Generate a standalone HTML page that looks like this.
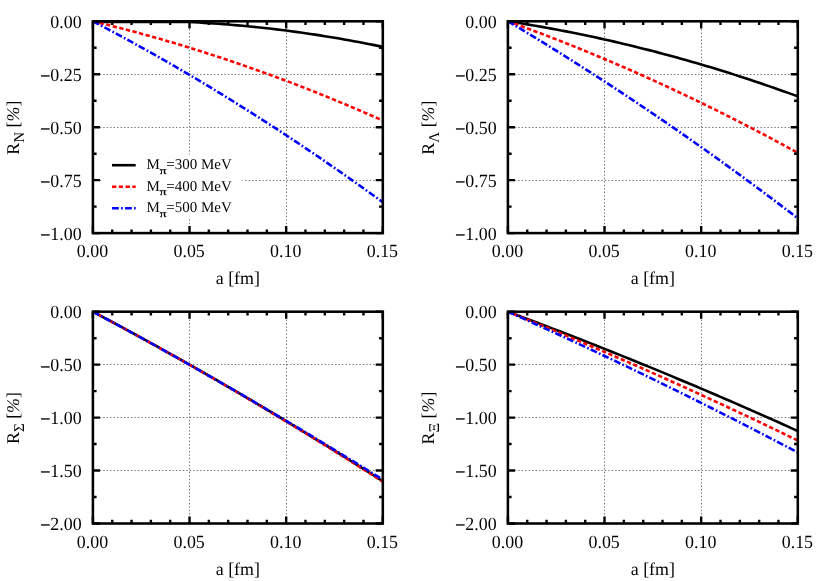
<!DOCTYPE html>
<html><head><meta charset="utf-8"><title>chart</title>
<style>
html,body{margin:0;padding:0;background:#fff;}
body{width:830px;height:581px;overflow:hidden;position:relative;font-family:"Liberation Serif",serif;}
</style></head><body>
<svg width="830" height="581" viewBox="0 0 830 581" style="position:absolute;left:0;top:0">
<rect x="0" y="0" width="830" height="581" fill="#fff"/>
<clipPath id="c00"><rect x="92.90" y="21.30" width="289.90" height="211.80"/></clipPath>
<path d="M92.90 74.50H382.80M92.90 127.50H382.80M92.90 180.50H382.80" stroke="#000" stroke-opacity="0.55" stroke-width="1.0" stroke-dasharray="1.4 2.06" fill="none"/>
<path d="M189.50 21.30V233.10M286.50 21.30V233.10" stroke="#000" stroke-opacity="0.55" stroke-width="1.0" stroke-dasharray="1.4 2.06" stroke-dashoffset="2.59" fill="none"/>
<g clip-path="url(#c00)" fill="none" stroke-width="2.6">
<polyline points="92.90,21.94 97.73,21.94 102.56,21.94 107.40,21.94 112.23,21.94 117.06,21.94 121.89,21.94 126.72,21.94 131.55,21.94 136.38,21.94 141.22,21.94 146.05,21.94 150.88,21.94 155.71,21.94 160.54,21.94 165.38,21.94 170.21,21.94 175.04,21.94 179.87,21.94 184.70,21.94 189.53,22.06 194.37,22.30 199.20,22.56 204.03,22.84 208.86,23.14 213.69,23.46 218.52,23.80 223.36,24.16 228.19,24.53 233.02,24.93 237.85,25.35 242.68,25.78 247.51,26.24 252.34,26.71 257.18,27.21 262.01,27.72 266.84,28.25 271.67,28.80 276.50,29.38 281.34,29.97 286.17,30.58 291.00,31.21 295.83,31.86 300.66,32.52 305.49,33.21 310.32,33.92 315.16,34.65 319.99,35.39 324.82,36.16 329.65,36.94 334.48,37.75 339.32,38.57 344.15,39.41 348.98,40.28 353.81,41.16 358.64,42.06 363.47,42.98 368.31,43.92 373.14,44.88 377.97,45.86 382.80,46.86" stroke="#000000"/>
<polyline points="92.90,21.30 97.73,22.46 102.56,23.64 107.40,24.84 112.23,26.05 117.06,27.28 121.89,28.53 126.72,29.79 131.55,31.07 136.38,32.36 141.22,33.68 146.05,35.01 150.88,36.35 155.71,37.72 160.54,39.09 165.38,40.49 170.21,41.90 175.04,43.33 179.87,44.78 184.70,46.24 189.53,47.72 194.37,49.22 199.20,50.73 204.03,52.26 208.86,53.81 213.69,55.37 218.52,56.95 223.36,58.55 228.19,60.16 233.02,61.79 237.85,63.43 242.68,65.10 247.51,66.78 252.34,68.47 257.18,70.19 262.01,71.92 266.84,73.66 271.67,75.43 276.50,77.21 281.34,79.00 286.17,80.82 291.00,82.65 295.83,84.49 300.66,86.36 305.49,88.24 310.32,90.13 315.16,92.04 319.99,93.97 324.82,95.92 329.65,97.88 334.48,99.86 339.32,101.86 344.15,103.87 348.98,105.90 353.81,107.95 358.64,110.01 363.47,112.09 368.31,114.19 373.14,116.30 377.97,118.43 382.80,120.58" stroke="#ff0000" stroke-dasharray="4.3 2.5"/>
<polyline points="92.90,21.30 97.73,23.82 102.56,26.36 107.40,28.92 112.23,31.49 117.06,34.08 121.89,36.69 126.72,39.31 131.55,41.95 136.38,44.61 141.22,47.29 146.05,49.98 150.88,52.68 155.71,55.41 160.54,58.15 165.38,60.90 170.21,63.68 175.04,66.47 179.87,69.27 184.70,72.10 189.53,74.94 194.37,77.80 199.20,80.67 204.03,83.56 208.86,86.47 213.69,89.39 218.52,92.33 223.36,95.29 228.19,98.26 233.02,101.25 237.85,104.26 242.68,107.28 247.51,110.32 252.34,113.38 257.18,116.45 262.01,119.55 266.84,122.65 271.67,125.78 276.50,128.92 281.34,132.07 286.17,135.25 291.00,138.44 295.83,141.65 300.66,144.87 305.49,148.11 310.32,151.37 315.16,154.64 319.99,157.93 324.82,161.24 329.65,164.56 334.48,167.91 339.32,171.26 344.15,174.64 348.98,178.03 353.81,181.44 358.64,184.86 363.47,188.30 368.31,191.76 373.14,195.23 377.97,198.72 382.80,202.23" stroke="#0000ff" stroke-dasharray="6.8 2.3 1.7 2.2"/>
</g>
<rect x="101" y="154.5" width="141.5" height="64" fill="#fff"/>
<path d="M112 165.2H135.7" stroke="#000000" stroke-width="2.6" fill="none"/>
<path d="M112 186.7H135.7" stroke="#ff0000" stroke-width="2.6" stroke-dasharray="4.3 2.5" fill="none"/>
<path d="M112 208.2H135.7" stroke="#0000ff" stroke-width="2.6" stroke-dasharray="6.8 2.3 1.7 2.2" fill="none"/>
<path d="M92.90 233.10v-7.1M92.90 21.30v7.1M112.23 233.10v-3.7M112.23 21.30v3.7M131.55 233.10v-3.7M131.55 21.30v3.7M150.88 233.10v-3.7M150.88 21.30v3.7M170.21 233.10v-3.7M170.21 21.30v3.7M189.53 233.10v-7.1M189.53 21.30v7.1M208.86 233.10v-3.7M208.86 21.30v3.7M228.19 233.10v-3.7M228.19 21.30v3.7M247.51 233.10v-3.7M247.51 21.30v3.7M266.84 233.10v-3.7M266.84 21.30v3.7M286.17 233.10v-7.1M286.17 21.30v7.1M305.49 233.10v-3.7M305.49 21.30v3.7M324.82 233.10v-3.7M324.82 21.30v3.7M344.15 233.10v-3.7M344.15 21.30v3.7M363.47 233.10v-3.7M363.47 21.30v3.7M382.80 233.10v-7.1M382.80 21.30v7.1" stroke="#000" stroke-width="2.4" fill="none"/>
<path d="M92.90 21.30h7.1M382.80 21.30h-7.1M92.90 47.78h3.7M382.80 47.78h-3.7M92.90 74.25h7.1M382.80 74.25h-7.1M92.90 100.73h3.7M382.80 100.73h-3.7M92.90 127.20h7.1M382.80 127.20h-7.1M92.90 153.68h3.7M382.80 153.68h-3.7M92.90 180.15h7.1M382.80 180.15h-7.1M92.90 206.63h3.7M382.80 206.63h-3.7M92.90 233.10h7.1M382.80 233.10h-7.1" stroke="#000" stroke-width="2.4" fill="none"/>
<rect x="92.90" y="21.30" width="289.90" height="211.80" fill="none" stroke="#000" stroke-width="2.55"/>
<clipPath id="c10"><rect x="507.90" y="21.30" width="289.90" height="211.80"/></clipPath>
<path d="M507.90 74.50H797.80M507.90 127.50H797.80M507.90 180.50H797.80" stroke="#000" stroke-opacity="0.55" stroke-width="1.0" stroke-dasharray="1.4 2.06" fill="none"/>
<path d="M604.50 21.30V233.10M701.50 21.30V233.10" stroke="#000" stroke-opacity="0.55" stroke-width="1.0" stroke-dasharray="1.4 2.06" stroke-dashoffset="2.59" fill="none"/>
<g clip-path="url(#c10)" fill="none" stroke-width="2.6">
<polyline points="507.90,21.30 512.73,22.04 517.56,22.81 522.39,23.58 527.23,24.38 532.06,25.19 536.89,26.02 541.72,26.87 546.55,27.73 551.38,28.62 556.22,29.52 561.05,30.43 565.88,31.36 570.71,32.32 575.54,33.28 580.38,34.27 585.21,35.27 590.04,36.29 594.87,37.33 599.70,38.38 604.53,39.45 609.37,40.54 614.20,41.64 619.03,42.77 623.86,43.91 628.69,45.06 633.52,46.24 638.36,47.43 643.19,48.64 648.02,49.87 652.85,51.11 657.68,52.37 662.51,53.65 667.35,54.94 672.18,56.25 677.01,57.58 681.84,58.93 686.67,60.29 691.50,61.67 696.34,63.07 701.17,64.49 706.00,65.92 710.83,67.37 715.66,68.83 720.49,70.32 725.32,71.82 730.16,73.34 734.99,74.87 739.82,76.43 744.65,78.00 749.48,79.58 754.32,81.19 759.15,82.81 763.98,84.45 768.81,86.11 773.64,87.78 778.47,89.47 783.31,91.18 788.14,92.90 792.97,94.64 797.80,96.40" stroke="#000000"/>
<polyline points="507.90,21.30 512.73,23.04 517.56,24.79 522.39,26.56 527.23,28.35 532.06,30.15 536.89,31.97 541.72,33.80 546.55,35.64 551.38,37.51 556.22,39.38 561.05,41.28 565.88,43.18 570.71,45.11 575.54,47.05 580.38,49.00 585.21,50.97 590.04,52.95 594.87,54.95 599.70,56.97 604.53,59.00 609.37,61.05 614.20,63.11 619.03,65.19 623.86,67.28 628.69,69.39 633.52,71.51 638.36,73.65 643.19,75.80 648.02,77.97 652.85,80.15 657.68,82.35 662.51,84.57 667.35,86.80 672.18,89.05 677.01,91.31 681.84,93.58 686.67,95.88 691.50,98.18 696.34,100.50 701.17,102.84 706.00,105.20 710.83,107.57 715.66,109.95 720.49,112.35 725.32,114.76 730.16,117.19 734.99,119.64 739.82,122.10 744.65,124.58 749.48,127.07 754.32,129.57 759.15,132.10 763.98,134.63 768.81,137.19 773.64,139.76 778.47,142.34 783.31,144.94 788.14,147.55 792.97,150.18 797.80,152.83" stroke="#ff0000" stroke-dasharray="4.3 2.5"/>
<polyline points="507.90,21.30 512.73,24.18 517.56,27.07 522.39,29.97 527.23,32.89 532.06,35.82 536.89,38.77 541.72,41.73 546.55,44.70 551.38,47.69 556.22,50.69 561.05,53.70 565.88,56.73 570.71,59.77 575.54,62.83 580.38,65.90 585.21,68.98 590.04,72.08 594.87,75.19 599.70,78.31 604.53,81.45 609.37,84.60 614.20,87.77 619.03,90.95 623.86,94.14 628.69,97.35 633.52,100.57 638.36,103.81 643.19,107.05 648.02,110.32 652.85,113.59 657.68,116.88 662.51,120.19 667.35,123.50 672.18,126.83 677.01,130.18 681.84,133.54 686.67,136.91 691.50,140.30 696.34,143.70 701.17,147.11 706.00,150.54 710.83,153.98 715.66,157.43 720.49,160.90 725.32,164.38 730.16,167.88 734.99,171.39 739.82,174.91 744.65,178.45 749.48,182.00 754.32,185.57 759.15,189.15 763.98,192.74 768.81,196.35 773.64,199.97 778.47,203.60 783.31,207.25 788.14,210.91 792.97,214.58 797.80,218.27" stroke="#0000ff" stroke-dasharray="6.8 2.3 1.7 2.2"/>
</g>
<path d="M507.90 233.10v-7.1M507.90 21.30v7.1M527.23 233.10v-3.7M527.23 21.30v3.7M546.55 233.10v-3.7M546.55 21.30v3.7M565.88 233.10v-3.7M565.88 21.30v3.7M585.21 233.10v-3.7M585.21 21.30v3.7M604.53 233.10v-7.1M604.53 21.30v7.1M623.86 233.10v-3.7M623.86 21.30v3.7M643.19 233.10v-3.7M643.19 21.30v3.7M662.51 233.10v-3.7M662.51 21.30v3.7M681.84 233.10v-3.7M681.84 21.30v3.7M701.17 233.10v-7.1M701.17 21.30v7.1M720.49 233.10v-3.7M720.49 21.30v3.7M739.82 233.10v-3.7M739.82 21.30v3.7M759.15 233.10v-3.7M759.15 21.30v3.7M778.47 233.10v-3.7M778.47 21.30v3.7M797.80 233.10v-7.1M797.80 21.30v7.1" stroke="#000" stroke-width="2.4" fill="none"/>
<path d="M507.90 21.30h7.1M797.80 21.30h-7.1M507.90 47.78h3.7M797.80 47.78h-3.7M507.90 74.25h7.1M797.80 74.25h-7.1M507.90 100.73h3.7M797.80 100.73h-3.7M507.90 127.20h7.1M797.80 127.20h-7.1M507.90 153.68h3.7M797.80 153.68h-3.7M507.90 180.15h7.1M797.80 180.15h-7.1M507.90 206.63h3.7M797.80 206.63h-3.7M507.90 233.10h7.1M797.80 233.10h-7.1" stroke="#000" stroke-width="2.4" fill="none"/>
<rect x="507.90" y="21.30" width="289.90" height="211.80" fill="none" stroke="#000" stroke-width="2.55"/>
<clipPath id="c01"><rect x="92.90" y="311.70" width="289.90" height="211.80"/></clipPath>
<path d="M92.90 364.50H382.80M92.90 417.50H382.80M92.90 470.50H382.80" stroke="#000" stroke-opacity="0.55" stroke-width="1.0" stroke-dasharray="1.4 2.06" fill="none"/>
<path d="M189.50 311.70V523.50M286.50 311.70V523.50" stroke="#000" stroke-opacity="0.55" stroke-width="1.0" stroke-dasharray="1.4 2.06" stroke-dashoffset="2.59" fill="none"/>
<g clip-path="url(#c01)" fill="none" stroke-width="2.6">
<polyline points="92.90,311.70 97.73,314.26 102.56,316.84 107.40,319.42 112.23,322.01 117.06,324.61 121.89,327.21 126.72,329.83 131.55,332.46 136.38,335.09 141.22,337.73 146.05,340.39 150.88,343.05 155.71,345.72 160.54,348.40 165.38,351.08 170.21,353.78 175.04,356.48 179.87,359.20 184.70,361.92 189.53,364.65 194.37,367.39 199.20,370.14 204.03,372.90 208.86,375.67 213.69,378.44 218.52,381.23 223.36,384.02 228.19,386.82 233.02,389.63 237.85,392.45 242.68,395.28 247.51,398.12 252.34,400.97 257.18,403.82 262.01,406.68 266.84,409.56 271.67,412.44 276.50,415.33 281.34,418.23 286.17,421.14 291.00,424.05 295.83,426.98 300.66,429.91 305.49,432.86 310.32,435.81 315.16,438.77 319.99,441.74 324.82,444.72 329.65,447.71 334.48,450.70 339.32,453.71 344.15,456.72 348.98,459.75 353.81,462.78 358.64,465.82 363.47,468.87 368.31,471.93 373.14,474.99 377.97,478.07 382.80,481.15" stroke="#000000"/>
<polyline points="92.90,311.70 97.73,314.27 102.56,316.85 107.40,319.44 112.23,322.04 117.06,324.65 121.89,327.27 126.72,329.89 131.55,332.53 136.38,335.17 141.22,337.82 146.05,340.48 150.88,343.15 155.71,345.83 160.54,348.52 165.38,351.21 170.21,353.92 175.04,356.63 179.87,359.36 184.70,362.09 189.53,364.83 194.37,367.58 199.20,370.33 204.03,373.10 208.86,375.88 213.69,378.66 218.52,381.45 223.36,384.26 228.19,387.07 233.02,389.89 237.85,392.72 242.68,395.55 247.51,398.40 252.34,401.25 257.18,404.12 262.01,406.99 266.84,409.87 271.67,412.76 276.50,415.66 281.34,418.57 286.17,421.49 291.00,424.41 295.83,427.35 300.66,430.29 305.49,433.24 310.32,436.20 315.16,439.17 319.99,442.15 324.82,445.14 329.65,448.14 334.48,451.14 339.32,454.15 344.15,457.18 348.98,460.21 353.81,463.25 358.64,466.30 363.47,469.36 368.31,472.42 373.14,475.50 377.97,478.58 382.80,481.68" stroke="#ff0000" stroke-dasharray="4.3 2.5"/>
<polyline points="92.90,311.70 97.73,314.28 102.56,316.88 107.40,319.48 112.23,322.08 117.06,324.70 121.89,327.32 126.72,329.95 131.55,332.58 136.38,335.23 141.22,337.88 146.05,340.53 150.88,343.20 155.71,345.87 160.54,348.55 165.38,351.24 170.21,353.93 175.04,356.63 179.87,359.34 184.70,362.06 189.53,364.78 194.37,367.51 199.20,370.25 204.03,373.00 208.86,375.75 213.69,378.51 218.52,381.27 223.36,384.05 228.19,386.83 233.02,389.62 237.85,392.42 242.68,395.22 247.51,398.03 252.34,400.85 257.18,403.67 262.01,406.51 266.84,409.35 271.67,412.19 276.50,415.05 281.34,417.91 286.17,420.78 291.00,423.65 295.83,426.54 300.66,429.43 305.49,432.33 310.32,435.23 315.16,438.14 319.99,441.06 324.82,443.99 329.65,446.92 334.48,449.87 339.32,452.82 344.15,455.77 348.98,458.74 353.81,461.71 358.64,464.68 363.47,467.67 368.31,470.66 373.14,473.66 377.97,476.67 382.80,479.68" stroke="#0000ff" stroke-dasharray="6.8 2.3 1.7 2.2"/>
</g>
<path d="M92.90 523.50v-7.1M92.90 311.70v7.1M112.23 523.50v-3.7M112.23 311.70v3.7M131.55 523.50v-3.7M131.55 311.70v3.7M150.88 523.50v-3.7M150.88 311.70v3.7M170.21 523.50v-3.7M170.21 311.70v3.7M189.53 523.50v-7.1M189.53 311.70v7.1M208.86 523.50v-3.7M208.86 311.70v3.7M228.19 523.50v-3.7M228.19 311.70v3.7M247.51 523.50v-3.7M247.51 311.70v3.7M266.84 523.50v-3.7M266.84 311.70v3.7M286.17 523.50v-7.1M286.17 311.70v7.1M305.49 523.50v-3.7M305.49 311.70v3.7M324.82 523.50v-3.7M324.82 311.70v3.7M344.15 523.50v-3.7M344.15 311.70v3.7M363.47 523.50v-3.7M363.47 311.70v3.7M382.80 523.50v-7.1M382.80 311.70v7.1" stroke="#000" stroke-width="2.4" fill="none"/>
<path d="M92.90 311.70h7.1M382.80 311.70h-7.1M92.90 338.18h3.7M382.80 338.18h-3.7M92.90 364.65h7.1M382.80 364.65h-7.1M92.90 391.12h3.7M382.80 391.12h-3.7M92.90 417.60h7.1M382.80 417.60h-7.1M92.90 444.07h3.7M382.80 444.07h-3.7M92.90 470.55h7.1M382.80 470.55h-7.1M92.90 497.02h3.7M382.80 497.02h-3.7M92.90 523.50h7.1M382.80 523.50h-7.1" stroke="#000" stroke-width="2.4" fill="none"/>
<rect x="92.90" y="311.70" width="289.90" height="211.80" fill="none" stroke="#000" stroke-width="2.55"/>
<clipPath id="c11"><rect x="507.90" y="311.70" width="289.90" height="211.80"/></clipPath>
<path d="M507.90 364.50H797.80M507.90 417.50H797.80M507.90 470.50H797.80" stroke="#000" stroke-opacity="0.55" stroke-width="1.0" stroke-dasharray="1.4 2.06" fill="none"/>
<path d="M604.50 311.70V523.50M701.50 311.70V523.50" stroke="#000" stroke-opacity="0.55" stroke-width="1.0" stroke-dasharray="1.4 2.06" stroke-dashoffset="2.59" fill="none"/>
<g clip-path="url(#c11)" fill="none" stroke-width="2.6">
<polyline points="507.90,311.70 512.73,313.50 517.56,315.30 522.39,317.11 527.23,318.92 532.06,320.74 536.89,322.57 541.72,324.41 546.55,326.25 551.38,328.10 556.22,329.95 561.05,331.81 565.88,333.68 570.71,335.55 575.54,337.43 580.38,339.32 585.21,341.21 590.04,343.11 594.87,345.02 599.70,346.93 604.53,348.85 609.37,350.78 614.20,352.71 619.03,354.65 623.86,356.60 628.69,358.55 633.52,360.51 638.36,362.47 643.19,364.44 648.02,366.42 652.85,368.41 657.68,370.40 662.51,372.40 667.35,374.40 672.18,376.41 677.01,378.43 681.84,380.45 686.67,382.48 691.50,384.52 696.34,386.57 701.17,388.62 706.00,390.67 710.83,392.74 715.66,394.80 720.49,396.88 725.32,398.96 730.16,401.05 734.99,403.15 739.82,405.25 744.65,407.36 749.48,409.48 754.32,411.60 759.15,413.73 763.98,415.86 768.81,418.00 773.64,420.15 778.47,422.30 783.31,424.47 788.14,426.63 792.97,428.81 797.80,430.99" stroke="#000000"/>
<polyline points="507.90,311.70 512.73,313.65 517.56,315.60 522.39,317.56 527.23,319.53 532.06,321.51 536.89,323.49 541.72,325.48 546.55,327.47 551.38,329.47 556.22,331.48 561.05,333.50 565.88,335.52 570.71,337.55 575.54,339.59 580.38,341.63 585.21,343.68 590.04,345.73 594.87,347.80 599.70,349.87 604.53,351.94 609.37,354.02 614.20,356.11 619.03,358.21 623.86,360.31 628.69,362.42 633.52,364.54 638.36,366.66 643.19,368.79 648.02,370.93 652.85,373.08 657.68,375.23 662.51,377.38 667.35,379.55 672.18,381.72 677.01,383.90 681.84,386.08 686.67,388.27 691.50,390.47 696.34,392.67 701.17,394.88 706.00,397.10 710.83,399.33 715.66,401.56 720.49,403.80 725.32,406.04 730.16,408.29 734.99,410.55 739.82,412.82 744.65,415.09 749.48,417.37 754.32,419.65 759.15,421.95 763.98,424.25 768.81,426.55 773.64,428.86 778.47,431.18 783.31,433.51 788.14,435.84 792.97,438.18 797.80,440.53" stroke="#ff0000" stroke-dasharray="4.3 2.5"/>
<polyline points="507.90,311.70 512.73,313.85 517.56,316.01 522.39,318.17 527.23,320.34 532.06,322.52 536.89,324.70 541.72,326.89 546.55,329.09 551.38,331.29 556.22,333.50 561.05,335.72 565.88,337.94 570.71,340.17 575.54,342.41 580.38,344.65 585.21,346.90 590.04,349.16 594.87,351.42 599.70,353.69 604.53,355.97 609.37,358.25 614.20,360.54 619.03,362.84 623.86,365.14 628.69,367.45 633.52,369.77 638.36,372.09 643.19,374.42 648.02,376.76 652.85,379.10 657.68,381.45 662.51,383.81 667.35,386.17 672.18,388.54 677.01,390.92 681.84,393.30 686.67,395.69 691.50,398.09 696.34,400.49 701.17,402.90 706.00,405.32 710.83,407.74 715.66,410.17 720.49,412.61 725.32,415.05 730.16,417.50 734.99,419.95 739.82,422.42 744.65,424.89 749.48,427.36 754.32,429.85 759.15,432.33 763.98,434.83 768.81,437.33 773.64,439.84 778.47,442.36 783.31,444.88 788.14,447.41 792.97,449.95 797.80,452.49" stroke="#0000ff" stroke-dasharray="6.8 2.3 1.7 2.2"/>
</g>
<path d="M507.90 523.50v-7.1M507.90 311.70v7.1M527.23 523.50v-3.7M527.23 311.70v3.7M546.55 523.50v-3.7M546.55 311.70v3.7M565.88 523.50v-3.7M565.88 311.70v3.7M585.21 523.50v-3.7M585.21 311.70v3.7M604.53 523.50v-7.1M604.53 311.70v7.1M623.86 523.50v-3.7M623.86 311.70v3.7M643.19 523.50v-3.7M643.19 311.70v3.7M662.51 523.50v-3.7M662.51 311.70v3.7M681.84 523.50v-3.7M681.84 311.70v3.7M701.17 523.50v-7.1M701.17 311.70v7.1M720.49 523.50v-3.7M720.49 311.70v3.7M739.82 523.50v-3.7M739.82 311.70v3.7M759.15 523.50v-3.7M759.15 311.70v3.7M778.47 523.50v-3.7M778.47 311.70v3.7M797.80 523.50v-7.1M797.80 311.70v7.1" stroke="#000" stroke-width="2.4" fill="none"/>
<path d="M507.90 311.70h7.1M797.80 311.70h-7.1M507.90 338.18h3.7M797.80 338.18h-3.7M507.90 364.65h7.1M797.80 364.65h-7.1M507.90 391.12h3.7M797.80 391.12h-3.7M507.90 417.60h7.1M797.80 417.60h-7.1M507.90 444.07h3.7M797.80 444.07h-3.7M507.90 470.55h7.1M797.80 470.55h-7.1M507.90 497.02h3.7M797.80 497.02h-3.7M507.90 523.50h7.1M797.80 523.50h-7.1" stroke="#000" stroke-width="2.4" fill="none"/>
<rect x="507.90" y="311.70" width="289.90" height="211.80" fill="none" stroke="#000" stroke-width="2.55"/>
<g font-family="'Liberation Serif', serif" fill="#000" text-rendering="geometricPrecision" opacity="0.999">
<text x="146.4" y="169.00" font-size="15.0">M</text>
<text transform="translate(159.7 173.70) scale(1.27 1)" font-size="10.50" stroke="#000" stroke-width="0.3">π</text>
<text x="166.2" y="169.00" font-size="15.0">=300 MeV</text>
<text x="146.4" y="190.50" font-size="15.0">M</text>
<text transform="translate(159.7 195.20) scale(1.27 1)" font-size="10.50" stroke="#000" stroke-width="0.3">π</text>
<text x="166.2" y="190.50" font-size="15.0">=400 MeV</text>
<text x="146.4" y="212.00" font-size="15.0">M</text>
<text transform="translate(159.7 216.70) scale(1.27 1)" font-size="10.50" stroke="#000" stroke-width="0.3">π</text>
<text x="166.2" y="212.00" font-size="15.0">=500 MeV</text>
<text transform="translate(92.50 257.20) scale(1 1.04)" text-anchor="middle" font-size="17.9">0.00</text>
<text transform="translate(189.13 257.20) scale(1 1.04)" text-anchor="middle" font-size="17.9">0.05</text>
<text transform="translate(285.77 257.20) scale(1 1.04)" text-anchor="middle" font-size="17.9">0.10</text>
<text transform="translate(382.40 257.20) scale(1 1.04)" text-anchor="middle" font-size="17.9">0.15</text>
<text transform="translate(81.60 27.80) scale(1 1.04)" text-anchor="end" font-size="17.9">0.00</text>
<text transform="translate(81.60 80.75) scale(1 1.04)" text-anchor="end" font-size="17.9"><tspan dy="1.3" stroke="#000" stroke-width="0.35">−</tspan><tspan dy="-1.3">0.25</tspan></text>
<text transform="translate(81.60 133.70) scale(1 1.04)" text-anchor="end" font-size="17.9"><tspan dy="1.3" stroke="#000" stroke-width="0.35">−</tspan><tspan dy="-1.3">0.50</tspan></text>
<text transform="translate(81.60 186.65) scale(1 1.04)" text-anchor="end" font-size="17.9"><tspan dy="1.3" stroke="#000" stroke-width="0.35">−</tspan><tspan dy="-1.3">0.75</tspan></text>
<text transform="translate(81.60 239.60) scale(1 1.04)" text-anchor="end" font-size="17.9"><tspan dy="1.3" stroke="#000" stroke-width="0.35">−</tspan><tspan dy="-1.3">1.00</tspan></text>
<text x="237.85" y="284.30" text-anchor="middle" font-size="17.9">a [fm]</text>
<text transform="translate(18.70 127.60) rotate(-90)" text-anchor="middle" font-size="17.9">R<tspan font-size="15.0" dy="5.4">N</tspan><tspan dy="-5.4"> [</tspan><tspan font-style="italic">%</tspan>]</text>
<text transform="translate(507.50 257.20) scale(1 1.04)" text-anchor="middle" font-size="17.9">0.00</text>
<text transform="translate(604.13 257.20) scale(1 1.04)" text-anchor="middle" font-size="17.9">0.05</text>
<text transform="translate(700.77 257.20) scale(1 1.04)" text-anchor="middle" font-size="17.9">0.10</text>
<text transform="translate(797.40 257.20) scale(1 1.04)" text-anchor="middle" font-size="17.9">0.15</text>
<text transform="translate(496.60 27.80) scale(1 1.04)" text-anchor="end" font-size="17.9">0.00</text>
<text transform="translate(496.60 80.75) scale(1 1.04)" text-anchor="end" font-size="17.9"><tspan dy="1.3" stroke="#000" stroke-width="0.35">−</tspan><tspan dy="-1.3">0.25</tspan></text>
<text transform="translate(496.60 133.70) scale(1 1.04)" text-anchor="end" font-size="17.9"><tspan dy="1.3" stroke="#000" stroke-width="0.35">−</tspan><tspan dy="-1.3">0.50</tspan></text>
<text transform="translate(496.60 186.65) scale(1 1.04)" text-anchor="end" font-size="17.9"><tspan dy="1.3" stroke="#000" stroke-width="0.35">−</tspan><tspan dy="-1.3">0.75</tspan></text>
<text transform="translate(496.60 239.60) scale(1 1.04)" text-anchor="end" font-size="17.9"><tspan dy="1.3" stroke="#000" stroke-width="0.35">−</tspan><tspan dy="-1.3">1.00</tspan></text>
<text x="652.85" y="284.30" text-anchor="middle" font-size="17.9">a [fm]</text>
<text transform="translate(433.70 127.60) rotate(-90)" text-anchor="middle" font-size="17.9">R<tspan font-size="15.0" dy="5.4">Λ</tspan><tspan dy="-5.4"> [</tspan><tspan font-style="italic">%</tspan>]</text>
<text transform="translate(92.50 547.60) scale(1 1.04)" text-anchor="middle" font-size="17.9">0.00</text>
<text transform="translate(189.13 547.60) scale(1 1.04)" text-anchor="middle" font-size="17.9">0.05</text>
<text transform="translate(285.77 547.60) scale(1 1.04)" text-anchor="middle" font-size="17.9">0.10</text>
<text transform="translate(382.40 547.60) scale(1 1.04)" text-anchor="middle" font-size="17.9">0.15</text>
<text transform="translate(81.60 318.20) scale(1 1.04)" text-anchor="end" font-size="17.9">0.00</text>
<text transform="translate(81.60 371.15) scale(1 1.04)" text-anchor="end" font-size="17.9"><tspan dy="1.3" stroke="#000" stroke-width="0.35">−</tspan><tspan dy="-1.3">0.50</tspan></text>
<text transform="translate(81.60 424.10) scale(1 1.04)" text-anchor="end" font-size="17.9"><tspan dy="1.3" stroke="#000" stroke-width="0.35">−</tspan><tspan dy="-1.3">1.00</tspan></text>
<text transform="translate(81.60 477.05) scale(1 1.04)" text-anchor="end" font-size="17.9"><tspan dy="1.3" stroke="#000" stroke-width="0.35">−</tspan><tspan dy="-1.3">1.50</tspan></text>
<text transform="translate(81.60 530.00) scale(1 1.04)" text-anchor="end" font-size="17.9"><tspan dy="1.3" stroke="#000" stroke-width="0.35">−</tspan><tspan dy="-1.3">2.00</tspan></text>
<text x="237.85" y="574.70" text-anchor="middle" font-size="17.9">a [fm]</text>
<text transform="translate(18.70 418.00) rotate(-90)" text-anchor="middle" font-size="17.9">R<tspan font-size="15.0" dy="5.4">Σ</tspan><tspan dy="-5.4"> [</tspan><tspan font-style="italic">%</tspan>]</text>
<text transform="translate(507.50 547.60) scale(1 1.04)" text-anchor="middle" font-size="17.9">0.00</text>
<text transform="translate(604.13 547.60) scale(1 1.04)" text-anchor="middle" font-size="17.9">0.05</text>
<text transform="translate(700.77 547.60) scale(1 1.04)" text-anchor="middle" font-size="17.9">0.10</text>
<text transform="translate(797.40 547.60) scale(1 1.04)" text-anchor="middle" font-size="17.9">0.15</text>
<text transform="translate(496.60 318.20) scale(1 1.04)" text-anchor="end" font-size="17.9">0.00</text>
<text transform="translate(496.60 371.15) scale(1 1.04)" text-anchor="end" font-size="17.9"><tspan dy="1.3" stroke="#000" stroke-width="0.35">−</tspan><tspan dy="-1.3">0.50</tspan></text>
<text transform="translate(496.60 424.10) scale(1 1.04)" text-anchor="end" font-size="17.9"><tspan dy="1.3" stroke="#000" stroke-width="0.35">−</tspan><tspan dy="-1.3">1.00</tspan></text>
<text transform="translate(496.60 477.05) scale(1 1.04)" text-anchor="end" font-size="17.9"><tspan dy="1.3" stroke="#000" stroke-width="0.35">−</tspan><tspan dy="-1.3">1.50</tspan></text>
<text transform="translate(496.60 530.00) scale(1 1.04)" text-anchor="end" font-size="17.9"><tspan dy="1.3" stroke="#000" stroke-width="0.35">−</tspan><tspan dy="-1.3">2.00</tspan></text>
<text x="652.85" y="574.70" text-anchor="middle" font-size="17.9">a [fm]</text>
<text transform="translate(433.70 418.00) rotate(-90)" text-anchor="middle" font-size="17.9">R<tspan font-size="15.0" dy="5.4">Ξ</tspan><tspan dy="-5.4"> [</tspan><tspan font-style="italic">%</tspan>]</text>
</g>
</svg>
</body></html>
